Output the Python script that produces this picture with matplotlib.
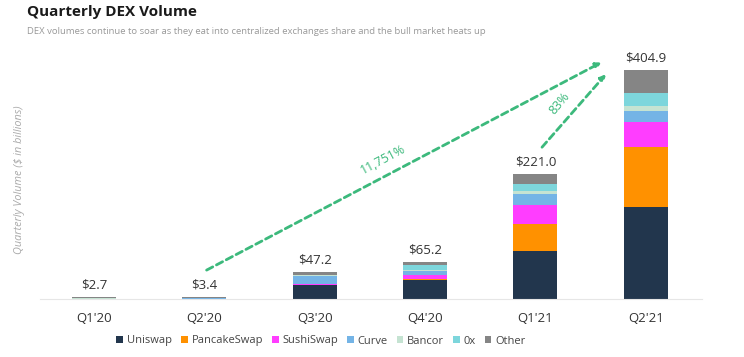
import numpy as np
import matplotlib.pyplot as plt

quarters = ["Q1'20", "Q2'20", "Q3'20", "Q4'20", "Q1'21", "Q2'21"]
totals = [2.7, 3.4, 47.2, 65.2, 221.0, 404.9]

uniswap = [0.3, 0.5, 24.0, 34.0, 85.0, 163.0]
pancakeswap = [0.0, 0.0, 0.0, 1.0, 47.0, 105.0]
sushiswap = [0.0, 0.0, 2.5, 6.5, 34.0, 45.0]
curve = [0.3, 0.4, 14.0, 8.0, 19.0, 19.0]
bancor = [0.9, 0.6, 1.0, 1.5, 6.0, 9.0]
zerox = [0.2, 0.3, 1.5, 9.5, 12.0, 22.0]
other = [1.0, 1.6, 4.2, 4.7, 18.0, 41.9]

series = [
    ("Uniswap", uniswap, "#22364d"),
    ("PancakeSwap", pancakeswap, "#ff9100"),
    ("SushiSwap", sushiswap, "#ff3dff"),
    ("Curve", curve, "#74b4e6"),
    ("Bancor", bancor, "#c5e3d2"),
    ("0x", zerox, "#7dd6dc"),
    ("Other", other, "#858585"),
]

plt.rcParams["font.family"] = ["Open Sans", "DejaVu Sans"]

fig = plt.figure(figsize=(7.44, 3.57), dpi=100)
ax = fig.add_axes([40 / 744, 58 / 357, 662 / 744, 239 / 357])

x = np.arange(len(quarters))
bottom = np.zeros(len(quarters))
for name, vals, color in series:
    ax.bar(x, vals, 0.4, bottom=bottom, color=color, label=name, linewidth=0)
    bottom += np.array(vals)

for xi, t in zip(x, totals):
    ax.annotate(f"${t:.1f}", (xi, t), xytext=(0, 4), textcoords="offset points",
                ha="center", va="bottom", fontsize=9.5, color="#333333")

ax.set_xlim(-0.49, 5.51)
ax.set_ylim(0, 422)
ax.set_xticks(x)
ax.set_xticklabels(quarters, fontsize=9.5, color="#333333")
ax.tick_params(axis="x", length=0, pad=9)
ax.set_yticks([])
for s in ["top", "right", "left"]:
    ax.spines[s].set_visible(False)
ax.spines["bottom"].set_color("#e6e6e6")

green = "#3cb97c"
arrow = dict(arrowstyle="-|>", color=green, lw=2, linestyle=(0, (2.5, 1.5)),
             mutation_scale=8, shrinkA=0, shrinkB=0)
ax.annotate("", xy=(4.6, 418), xytext=(1.02, 51), arrowprops=arrow, annotation_clip=False)
ax.annotate("", xy=(4.64, 397), xytext=(4.06, 268), arrowprops=arrow, annotation_clip=False)
ax.text(2.62, 246, "11,751%", color=green, fontsize=9, rotation=28, ha="center", va="center")
ax.text(4.22, 346, "83%", color=green, fontsize=9, rotation=50, ha="center", va="center")

fig.text(20 / 744, 1 - 180 / 357, "Quarterly Volume ($ in billions)", rotation=90,
         ha="center", va="center", fontsize=7.8, style="italic", color="#aaaaaa")

fig.text(27 / 744, 1 - 12 / 357, "Quarterly DEX Volume", fontsize=11, fontweight="bold",
         color="#1a1a1a", ha="left", va="center")
fig.text(27 / 744, 1 - 32 / 357,
         "DEX volumes continue to soar as they eat into centralized exchanges share and the bull market heats up",
         fontsize=6.8, color="#999999", ha="left", va="center")

fig.legend(loc="center", bbox_to_anchor=(321 / 744, 1 - 341 / 357), ncol=7, frameon=False,
           fontsize=8, handlelength=0.6, handleheight=0.6, handletextpad=0.35,
           columnspacing=0.8, labelcolor="#444444")

fig.savefig("out.png", dpi=100)
